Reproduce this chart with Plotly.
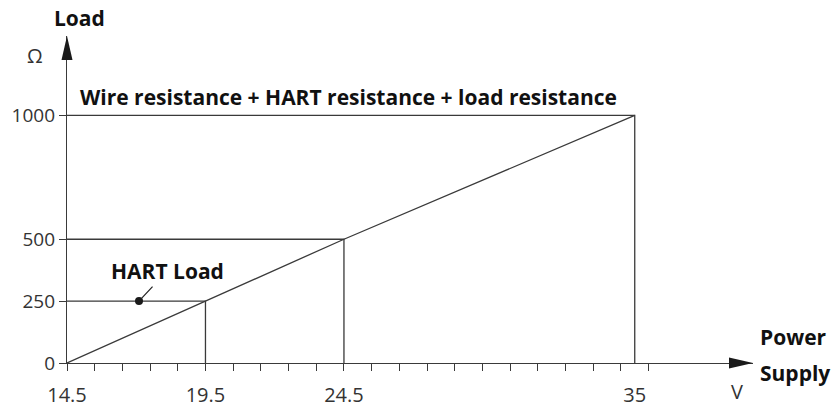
import plotly.graph_objects as go

# ---- data ----
supply_v = [14.5, 19.5, 24.5, 35]          # power supply voltage (V)
load_ohm = [0, 250, 500, 1000]             # max load resistance (Ohm)
x_tick_vals = [14.5, 19.5, 24.5, 35]
x_tick_text = ["14.5", "19.5", "24.5", "35"]
x_minor_ticks = [14.5 + i for i in range(22)]   # 14.5 ... 35.5
y_tick_vals = [0, 250, 500, 1000]
y_tick_text = ["0", "250", "500", "1000"]
hart_point = (17.1, 250)
x_range = [14.5, 39.27]
y_range = [0, 1321]

W, H = 831, 407
L, R, T, B = 67, 78, 36, 44
PW, PH = W - L - R, H - T - B
LINE = "#3a3a3a"
FONT = "Open Sans"
BOLD = 21

def paper(px, py):
    return (px - L) / PW, (H - B - py) / PH

fig = go.Figure()

# main diagonal
fig.add_trace(go.Scatter(x=supply_v, y=load_ohm, mode="lines",
                         line=dict(color=LINE, width=1.3), hoverinfo="skip"))
# guide lines (horizontal and vertical) for each point except origin
for v, r in zip(supply_v[1:], load_ohm[1:]):
    fig.add_trace(go.Scatter(x=[supply_v[0], v, v], y=[r, r, 0], mode="lines",
                             line=dict(color=LINE, width=1.3), hoverinfo="skip"))
# HART load dot
fig.add_trace(go.Scatter(x=[hart_point[0]], y=[hart_point[1]], mode="markers",
                         marker=dict(color="#1a1a1a", size=8), hoverinfo="skip"))

# arrowheads on axes
ax_len, ax_half = 24, 5.5
fig.add_shape(type="path", xref="x domain", yref="y domain",
              path=f"M 1,0 L {1-ax_len/PW},{ax_half/PH} L {1-ax_len/PW},{-ax_half/PH} Z",
              fillcolor="#1a1a1a", line=dict(width=0))
fig.add_shape(type="path", xref="x domain", yref="y domain",
              path=f"M 0,1 L {ax_half/PW},{1-ax_len/PH} L {-ax_half/PW},{1-ax_len/PH} Z",
              fillcolor="#1a1a1a", line=dict(width=0))

ann = []
ann.append(dict(x=supply_v[0], y=load_ohm[-1], xref="x", yref="y",
                text="<b>Wire resistance + HART resistance + load resistance</b>",
                xanchor="left", yanchor="middle", xshift=11, yshift=18,
                showarrow=False, font=dict(family=FONT, size=BOLD, color="#111")))
ann.append(dict(x=hart_point[0], y=hart_point[1], xref="x", yref="y",
                text="<b>HART Load</b>", showarrow=True, arrowhead=0,
                arrowwidth=1.2, arrowcolor="#222", ax=28, ay=-30, standoff=3,
                font=dict(family=FONT, size=BOLD, color="#111")))
for txt, px, py, anchor, size, bold in [
        ("Load", 52, 18, "left", BOLD, True),
        ("Ω", 35, 55, "center", 20, False),
        ("Power", 758, 337, "left", BOLD, True),
        ("Supply", 758, 373, "left", BOLD, True),
        ("V", 737, 391, "center", 20, False)]:
    xp, yp = paper(px, py)
    ann.append(dict(x=xp, y=yp, xref="paper", yref="paper",
                    text=f"<b>{txt}</b>" if bold else txt,
                    xanchor=anchor, yanchor="middle", showarrow=False,
                    font=dict(family=FONT, size=size,
                              color="#111" if bold else "#333")))

fig.update_layout(
    width=W, height=H, margin=dict(l=L, r=R, t=T, b=B, pad=0),
    paper_bgcolor="white", plot_bgcolor="white", showlegend=False,
    annotations=ann,
    xaxis=dict(range=x_range, showgrid=False, zeroline=False, automargin=False,
               showline=True, linecolor=LINE, linewidth=1.3,
               tickvals=x_tick_vals, ticktext=x_tick_text, ticks="",
               ticklabelstandoff=14,
               tickfont=dict(family=FONT, size=20, color="#333")),
    yaxis=dict(range=y_range, showgrid=False, zeroline=False, automargin=False,
               showline=True, linecolor=LINE, linewidth=1.3,
               tickvals=y_tick_vals, ticktext=y_tick_text, ticks="outside",
               ticklen=7, tickcolor=LINE, tickwidth=1.2,
               tickfont=dict(family=FONT, size=19, color="#333")),
)
fig.update_xaxes(minor=dict(tickvals=x_minor_ticks, ticks="outside", ticklen=7,
                            tickcolor=LINE, tickwidth=1.2))

fig.write_html("out.html", config={"displayModeBar": False},
               post_script="document.body.style.margin='0';")
